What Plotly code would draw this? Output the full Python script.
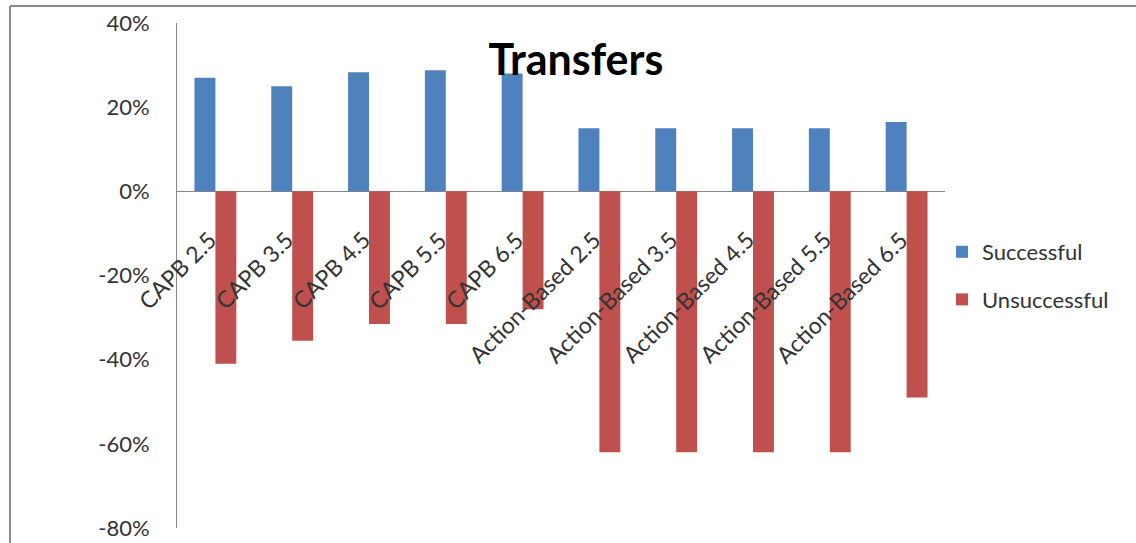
import plotly.graph_objects as go

# Transfer outcomes per method
categories = ["CAPB 2.5", "CAPB 3.5", "CAPB 4.5", "CAPB 5.5", "CAPB 6.5",
              "Action-Based 2.5", "Action-Based 3.5", "Action-Based 4.5",
              "Action-Based 5.5", "Action-Based 6.5"]
successful = [0.27, 0.25, 0.283, 0.288, 0.28, 0.15, 0.15, 0.15, 0.15, 0.165]
unsuccessful = [-0.41, -0.355, -0.315, -0.315, -0.28, -0.62, -0.62, -0.62, -0.62, -0.49]

tick_vals = [0.4, 0.2, 0.0, -0.2, -0.4, -0.6, -0.8]
tick_text = ["40%", "20%", "0%", "-20%", "-40%", "-60%", "-80%"]

W, H = 1136, 543
L, R, T, B = 177, 191, 23, 15
PW, PH = W - L - R, H - T - B

FONT = "Lato"
TEXT = "#333333"

fig = go.Figure()
fig.add_trace(go.Bar(x=categories, y=successful, name="Successful",
                     marker=dict(color="#4F81BD", line=dict(width=0)),
                     legendgroup="a"))
fig.add_trace(go.Bar(x=categories, y=unsuccessful, name="Unsuccessful",
                     marker=dict(color="#C0504D", line=dict(width=0)),
                     legendgroup="b"))

# category labels hang diagonally from the zero line
annotations = []
for c in categories:
    annotations.append(dict(
        x=c, y=0, xref="x", yref="y", text=c, showarrow=False,
        textangle=-45, xanchor="right", yanchor="top",
        xshift=9, yshift=-31,
        font=dict(family=FONT, size=23, color=TEXT),
    ))


def px_x(p):
    return (p - L) / PW


def px_y(p):
    return (H - B - p) / PH


# outer frame: top and left edges
shapes = [
    dict(type="line", xref="paper", yref="paper",
         x0=px_x(10), x1=px_x(W + 5), y0=px_y(6), y1=px_y(6),
         line=dict(color="#8a8a8a", width=2)),
    dict(type="line", xref="paper", yref="paper",
         x0=px_x(10), x1=px_x(10), y0=px_y(6), y1=px_y(H + 5),
         line=dict(color="#8a8a8a", width=2)),
]

fig.update_layout(
    width=W, height=H,
    margin=dict(l=L, r=R, t=T, b=B, pad=0, autoexpand=False),
    paper_bgcolor="white", plot_bgcolor="white",
    barmode="group", bargap=0.455, bargroupgap=0,
    title=dict(text="<b>Transfers</b>", x=576 / W, xanchor="center",
               y=1 - 60 / H, yanchor="middle",
               font=dict(family=FONT, size=43, color="black")),
    font=dict(family=FONT, size=21, color=TEXT),
    xaxis=dict(range=[-0.5, len(categories) - 0.5], autorange=False,
               showticklabels=False, showline=False, showgrid=False,
               zeroline=False, ticks=""),
    yaxis=dict(range=[-0.8, 0.4], autorange=False,
               tickvals=tick_vals, ticktext=tick_text,
               showgrid=False, showline=True, linecolor="#868686", linewidth=1,
               zeroline=True, zerolinecolor="#868686", zerolinewidth=1,
               ticks="", ticklabelstandoff=22, automargin=False,
               tickfont=dict(family=FONT, size=22, color=TEXT)),
    legend=dict(x=px_x(942), y=px_y(231), xanchor="left", yanchor="top",
                traceorder="grouped", tracegroupgap=16,
                font=dict(family=FONT, size=22, color=TEXT),
                bgcolor="rgba(0,0,0,0)", itemwidth=30),
    annotations=annotations,
    shapes=shapes,
)

fig.write_html("out.html")
